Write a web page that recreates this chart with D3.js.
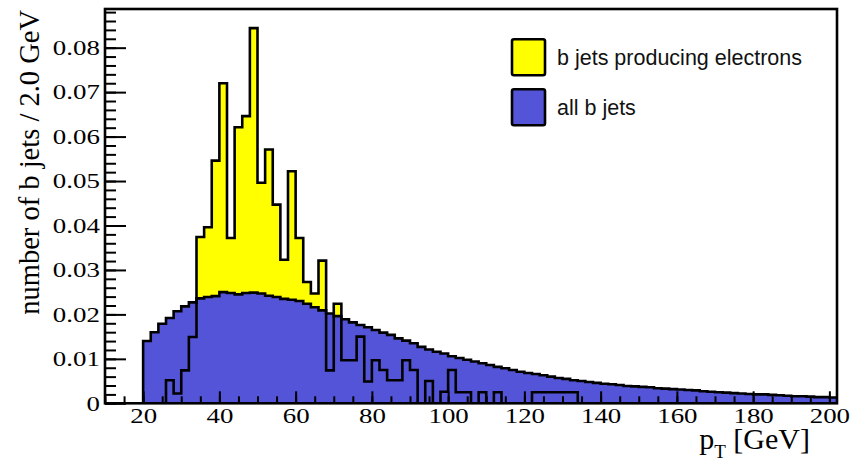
<!DOCTYPE html>
<html>
<head>
<meta charset="utf-8">
<script src="https://cdn.jsdelivr.net/npm/d3@7"></script>
<style>
body { margin: 0; background: #fff; }
</style>
</head>
<body>
<div id="chart"></div>
<script>
// 2 GeV bins, lower edges 20 .. 200
const binLow = d3.range(20, 202, 2);

// all b jets (normalised)
const allB = [
    0.0140, 0.0160, 0.0179, 0.0192, 0.0207, 0.0218, 0.0227, 0.0236, 0.0239, 0.0241,
    0.0250, 0.0248, 0.0245, 0.0248, 0.0249, 0.0247, 0.0242, 0.0239, 0.0235, 0.0233,
    0.0230, 0.0224, 0.0216, 0.0209, 0.0202, 0.0196, 0.0189, 0.0182, 0.0176, 0.0171,
    0.0165, 0.0159, 0.0154, 0.0146, 0.0141, 0.0135, 0.0127, 0.0121, 0.0116, 0.0112,
    0.0106, 0.0102, 0.0098, 0.0094, 0.0090, 0.0086, 0.0082, 0.0079, 0.0075, 0.0071,
    0.0068, 0.0066, 0.0063, 0.0060, 0.0057, 0.0055, 0.0052, 0.0050, 0.0048, 0.0046,
    0.0044, 0.0043, 0.0041, 0.0039, 0.0038, 0.0037, 0.0036, 0.0034, 0.0033, 0.0032,
    0.0031, 0.0030, 0.0029, 0.0027, 0.0026, 0.0025, 0.0024, 0.0023, 0.0022, 0.0021,
    0.0020, 0.0020, 0.0019, 0.0018, 0.0017, 0.0016, 0.0016, 0.0015, 0.0014, 0.0014,
    0.0013
];

// b jets producing electrons (normalised)
const eleB = [
    0, 0, 0, 0.0052, 0.0022, 0.0074, 0.0149, 0.0374, 0.0396, 0.0546,
    0.0720, 0.0372, 0.0621, 0.0646, 0.0844, 0.0496, 0.0571, 0.0447, 0.0323, 0.0522,
    0.0372, 0.0273, 0.0247, 0.0321, 0.0074, 0.0224, 0.0097, 0.0097, 0.0150, 0.0049,
    0.0097, 0.0075, 0.0052, 0.0052, 0.0097, 0.0075, 0, 0.0050, 0, 0.0026,
    0.0075, 0.0025, 0.0025, 0, 0.0025, 0, 0.0025, 0, 0, 0,
    0, 0.0025, 0.0025, 0.0025, 0.0025, 0.0025, 0.0025, 0, 0, 0,
    0, 0, 0, 0, 0, 0, 0, 0, 0, 0,
    0, 0, 0, 0, 0, 0, 0, 0, 0, 0,
    0, 0, 0, 0, 0, 0, 0, 0, 0, 0,
    0
];

const xTicks = [20, 40, 60, 80, 100, 120, 140, 160, 180, 200];
const yTicks = [0, 0.01, 0.02, 0.03, 0.04, 0.05, 0.06, 0.07, 0.08];
const legendLabels = ["b jets producing electrons", "all b jets"];

const yellow = "#ffff00";
const blue = "#5454d8";

const frame = { left: 105, right: 837, top: 9, bottom: 403.3 };

const svg = d3.select("#chart").append("svg")
    .attr("width", 859)
    .attr("height", 465);

const x = d3.scaleLinear().domain([10, 202]).range([frame.left, frame.right]);
const y = d3.scaleLinear().domain([0, 0.0887]).range([frame.bottom, frame.top]);

svg.append("clipPath").attr("id", "plotclip")
    .append("rect")
    .attr("x", frame.left).attr("y", frame.top)
    .attr("width", frame.right - frame.left)
    .attr("height", frame.bottom - frame.top);

function steps(vals) {
    const pts = vals.map((v, i) => [binLow[i], v]);
    pts.push([binLow[binLow.length - 1] + 2, vals[vals.length - 1]]);
    return [[binLow[0], 0]].concat(pts);
}

const area = d3.area()
    .curve(d3.curveStepAfter)
    .x(d => x(d[0]))
    .y0(y(0))
    .y1(d => y(d[1]));

const line = d3.line()
    .curve(d3.curveStepAfter)
    .x(d => x(d[0]))
    .y(d => y(d[1]));

const plot = svg.append("g").attr("clip-path", "url(#plotclip)");

// yellow fill, blue on top, then the yellow outline again
plot.append("path").attr("d", area(steps(eleB))).attr("fill", yellow);
plot.append("path").attr("d", area(steps(allB))).attr("fill", blue);
plot.append("path").attr("d", line(steps(allB)))
    .attr("fill", "none").attr("stroke", "#000").attr("stroke-width", 2.6);
plot.append("path").attr("d", line(steps(eleB)))
    .attr("fill", "none").attr("stroke", "#000").attr("stroke-width", 2.6);

// axes (ticks point inwards)
const gx = svg.append("g").attr("transform", `translate(0,${frame.bottom})`);
gx.append("g").call(d3.axisBottom(x)
    .tickValues(d3.range(10, 203, 5)).tickSize(-7).tickFormat(""));
gx.append("g").call(d3.axisBottom(x)
    .tickValues(xTicks).tickSize(-12).tickPadding(5).tickFormat(d3.format("d")));

const gy = svg.append("g").attr("transform", `translate(${frame.left},0)`);
gy.append("g").call(d3.axisLeft(y)
    .tickValues(d3.range(0, 45).map(i => i * 0.002)).tickSize(-11).tickFormat(""));
gy.append("g").call(d3.axisLeft(y)
    .tickValues(yTicks).tickSize(-21).tickPadding(4).tickFormat(d => d === 0 ? "0" : d3.format(".2f")(d)));

svg.selectAll(".domain").remove();
svg.selectAll(".tick line").attr("stroke", "#000").attr("stroke-width", 2);
svg.selectAll(".tick text")
    .attr("fill", "#000")
    .style("font-family", "'Liberation Serif', 'Times New Roman', serif")
    .style("font-size", "21px")
    .attr("transform", "scale(1.28,1)");

// frame
svg.append("rect")
    .attr("x", frame.left).attr("y", frame.top)
    .attr("width", frame.right - frame.left)
    .attr("height", frame.bottom - frame.top)
    .attr("fill", "none").attr("stroke", "#000").attr("stroke-width", 2.6);

// axis titles
svg.append("text")
    .attr("transform", `translate(39,10) rotate(-90)`)
    .attr("text-anchor", "end")
    .style("font-family", "'Liberation Serif', 'Times New Roman', serif")
    .style("font-size", "28.5px")
    .attr("fill", "#000")
    .text("number of b jets / 2.0 GeV");

const xt = svg.append("text")
    .attr("x", 810).attr("y", 449)
    .attr("text-anchor", "end")
    .style("font-family", "'Liberation Serif', 'Times New Roman', serif")
    .style("font-size", "30px")
    .attr("fill", "#000");
xt.append("tspan").text("p");
xt.append("tspan").attr("dy", 9).style("font-size", "19px").text("T");
xt.append("tspan").attr("dy", -9).text(" [GeV]");

// legend
const legend = svg.append("g");
const legColors = [yellow, blue];
const legRows = [39.3, 89.3];
legendLabels.forEach((lab, i) => {
    legend.append("rect")
        .attr("x", 512).attr("y", legRows[i])
        .attr("width", 33).attr("height", 36)
        .attr("rx", 2)
        .attr("fill", legColors[i])
        .attr("stroke", "#000").attr("stroke-width", 2.6);
    legend.append("text")
        .attr("x", 557).attr("y", legRows[i] + 25.5)
        .style("font-family", "'Liberation Sans', Arial, sans-serif")
        .style("font-size", "21.5px")
        .attr("fill", "#111")
        .text(lab);
});
</script>
</body>
</html>
